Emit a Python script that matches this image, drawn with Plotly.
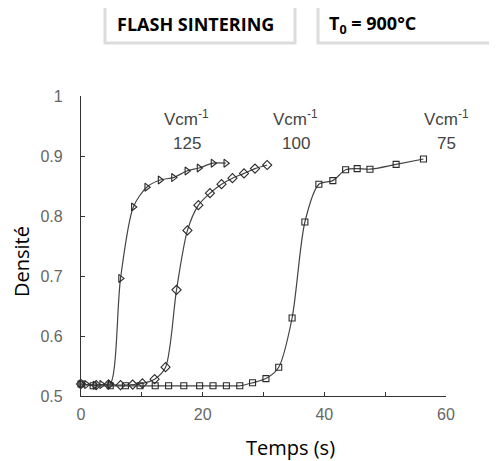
import plotly.graph_objects as go

# Data
t125 = [0, 0.9, 2.3, 3.4, 4.8, 6.5, 8.6, 10.8, 13.0, 15.2, 17.4, 19.4, 21.7, 23.8]
d125 = [0.52, 0.519, 0.518, 0.519, 0.52, 0.696, 0.815, 0.848, 0.86, 0.864, 0.875, 0.88, 0.888, 0.888]

t100 = [0, 2.5, 4.5, 6.5, 8.5, 10.1, 12.1, 13.9, 15.7, 17.5, 19.3, 21.2, 23.1, 24.9, 26.8, 28.6, 30.6]
d100 = [0.52, 0.518, 0.519, 0.518, 0.519, 0.521, 0.528, 0.548, 0.677, 0.776, 0.818, 0.838,
        0.853, 0.863, 0.871, 0.879, 0.885]

t75 = [0, 2.0, 4.8, 7.3, 9.7, 12.2, 14.4, 16.9, 19.5, 21.7, 23.9, 26.1, 28.2, 30.4, 32.5,
       34.7, 36.8, 39.1, 41.4, 43.5, 45.4, 47.5, 51.8, 56.3]
d75 = [0.52, 0.517, 0.517, 0.517, 0.517, 0.517, 0.517, 0.517, 0.517, 0.517, 0.517, 0.517,
       0.522, 0.529, 0.548, 0.630, 0.790, 0.853, 0.859, 0.877, 0.879, 0.878, 0.886, 0.895]

x_ticks = [0, 10, 20, 30, 40, 50, 60]
x_labels = ["0", "", "20", "", "40", "", "60"]
y_ticks = [0.5, 0.6, 0.7, 0.8, 0.9, 1.0]
y_labels = ["0.5", "0.6", "0.7", "0.8", "0.9", "1"]

field_labels = ["125", "100", "75"]
label_x = [17.4, 35.3, 60.0]

# the page body has an 8px margin: work in page pixels and offset
OFF = 8
W, H = 497 - OFF, 461 - OFF
L, R, T, B = 81 - OFF, 51, 96 - OFF, 65
pw, ph = W - L - R, H - T - B


def px(x):
    return (x - OFF - L) / pw


def py(y):
    return (H + OFF - B - y) / ph


fig = go.Figure()
series = [(t125, d125, "triangle-right-open", 7),
          (t100, d100, "diamond-open", 7),
          (t75, d75, "square-open", 6)]
for t, d, sym, sz in series:
    fig.add_trace(go.Scatter(
        x=t, y=d, mode="lines+markers",
        line=dict(color="#444", width=1.2, shape="spline", smoothing=0.8),
        marker=dict(symbol=sym, size=sz, color="#2a2a2a", line=dict(width=1.1, color="#2a2a2a")),
        showlegend=False, cliponaxis=False))

for lab, lx in zip(field_labels, label_x):
    fig.add_annotation(x=lx, y=0.963, xref="x", yref="y", text="Vcm<sup>-1</sup>",
                       showarrow=False, font=dict(family="Liberation Sans", size=17, color="#444"))
    fig.add_annotation(x=lx, y=0.921, xref="x", yref="y", text=lab,
                       showarrow=False, font=dict(family="Liberation Sans", size=17, color="#444"))

# Header boxes
fig.add_shape(type="rect", xref="paper", yref="paper", x0=px(105), x1=px(295), y0=py(43), y1=py(5),
              line=dict(color="#dcdcdc", width=3), fillcolor="white")
fig.add_shape(type="rect", xref="paper", yref="paper", x0=px(318), x1=px(510), y0=py(43), y1=py(5),
              line=dict(color="#dcdcdc", width=3), fillcolor="white")
fig.add_annotation(xref="paper", yref="paper", x=px(115), y=py(24), xanchor="left", yanchor="middle",
                   text="<b>FLASH SINTERING</b>", showarrow=False,
                   font=dict(family="Open Sans", size=18, color="black"))
fig.add_annotation(xref="paper", yref="paper", x=px(327), y=py(24), xanchor="left", yanchor="middle",
                   text="<b>T<sub>0</sub> = 900°C</b>", showarrow=False,
                   font=dict(family="Open Sans", size=18, color="black"))

# Axis titles
fig.add_annotation(xref="paper", yref="paper", x=px(290), y=py(447), text="Temps (s)", showarrow=False,
                   xanchor="center", yanchor="middle", font=dict(family="Open Sans", size=20, color="black"))
fig.add_annotation(xref="paper", yref="paper", x=px(21), y=py(262), text="Densité", showarrow=False,
                   textangle=-90, xanchor="center", yanchor="middle",
                   font=dict(family="Open Sans", size=20, color="black"))

fig.update_xaxes(range=[0, 60], tickvals=x_ticks, ticktext=x_labels, ticks="inside", ticklen=4,
                 tickcolor="#333", showline=True, linecolor="#333", linewidth=1.2, showgrid=False,
                 zeroline=False, ticklabelstandoff=4,
                 tickfont=dict(family="Liberation Sans", size=16, color="#666"))
fig.update_yaxes(range=[0.5, 1.0], tickvals=y_ticks, ticktext=y_labels, ticks="inside", ticklen=4,
                 tickcolor="#333", showline=True, linecolor="#333", linewidth=1.2, showgrid=False,
                 zeroline=False, ticklabelstandoff=14,
                 tickfont=dict(family="Liberation Sans", size=16, color="#666"))

fig.update_layout(width=W, height=H, margin=dict(l=L, r=R, t=T, b=B),
                  plot_bgcolor="white", paper_bgcolor="white")

fig.write_html("out.html")
